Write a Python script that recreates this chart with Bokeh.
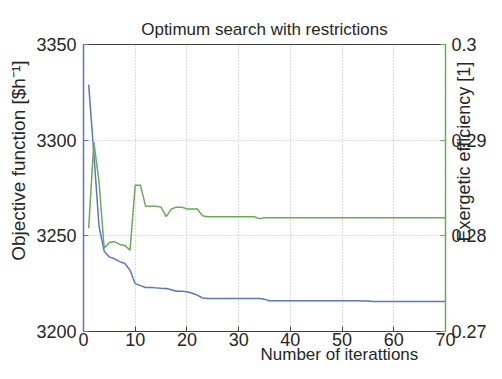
import math
from bokeh.plotting import figure
from bokeh.models import Range1d, LinearAxis, FixedTicker, ColumnDataSource, Title, Axis
from bokeh.embed import file_html
from bokeh.resources import INLINE

iterations = list(range(1, 71))
objective = [3329, 3293, 3255, 3242, 3239, 3238, 3236.5, 3235.5, 3232, 3225,
             3224, 3223, 3223, 3222.8, 3222.6, 3222.5, 3221.8, 3221, 3221, 3220.8,
             3220, 3219, 3217.5, 3217.3, 3217.3, 3217.3, 3217.3, 3217.3, 3217.3, 3217.3,
             3217.3, 3217.3, 3217.3, 3217.2, 3216.8, 3216.1, 3216.1, 3216.1, 3216.1, 3216.1,
             3216.1, 3216.1, 3216.1, 3216.1, 3216.1, 3216.1, 3216.1, 3216.1, 3216.1, 3216.1,
             3216.1, 3216.1, 3216.1, 3216.0, 3216.0, 3215.7, 3215.7, 3215.7, 3215.7, 3215.7,
             3215.7, 3215.7, 3215.7, 3215.7, 3215.7, 3215.7, 3215.7, 3215.7, 3215.7, 3215.7]
efficiency = [0.2808, 0.2898, 0.2857, 0.2787, 0.2793, 0.2794, 0.2791, 0.2790, 0.2785, 0.2853,
              0.2853, 0.2831, 0.2831, 0.2831, 0.2830, 0.2820, 0.2828, 0.2830, 0.2830, 0.2828,
              0.2828, 0.2828, 0.2821, 0.2820, 0.2820, 0.2820, 0.2820, 0.2820, 0.2820, 0.2820,
              0.2820, 0.2820, 0.2820, 0.2818, 0.2819] + [0.2819] * 35

x_ticks = [0, 10, 20, 30, 40, 50, 60, 70]
left_ticks = [3200, 3250, 3300, 3350]
right_ticks = [0.27, 0.28, 0.29, 0.3]

title_text = "Optimum search with restrictions"
xlabel = "Number of iterattions"
ylabel_left = "Objective function [$h\u207b\u00b9]"
ylabel_right = "Exergetic efficiency [1]"

BLUE = "#5b76c4"
GREEN = "#6aaa5a"
DARK = "#404040"
TXT = "#262626"
FONT = "Liberation Sans"

p = figure(width=486, height=363, output_backend="svg", toolbar_location=None,
           x_range=Range1d(0, 70), y_range=Range1d(3200, 3350),
           min_border_left=80, min_border_right=41, min_border_top=44, min_border_bottom=32)
p.extra_y_ranges = {"eff": Range1d(0.27, 0.3)}
p.outline_line_color = DARK
p.outline_line_width = 1
p.background_fill_color = "white"
p.border_fill_color = "white"

src = ColumnDataSource(dict(x=iterations, obj=objective, eff=efficiency))
p.line("x", "obj", source=src, line_color=BLUE, line_width=1.5)
p.line("x", "eff", source=src, line_color=GREEN, line_width=1.5, y_range_name="eff")

for ax in p.xaxis:
    ax.ticker = FixedTicker(ticks=x_ticks)
    ax.axis_line_color = DARK
    ax.major_tick_in = 5
    ax.major_tick_out = 0
    ax.major_tick_line_color = DARK
    ax.minor_tick_line_color = None
    ax.major_label_text_font = FONT
    ax.major_label_text_font_size = "18px"
    ax.major_label_text_color = TXT
    ax.major_label_standoff = 1

for ax in p.yaxis:
    ax.ticker = FixedTicker(ticks=left_ticks)
    ax.axis_line_color = BLUE
    ax.axis_line_width = 1.5
    ax.major_tick_in = 5
    ax.major_tick_out = 0
    ax.major_tick_line_color = BLUE
    ax.minor_tick_line_color = None
    ax.major_label_text_font = FONT
    ax.major_label_text_font_size = "18px"
    ax.major_label_text_color = TXT
    ax.major_label_standoff = 7

ry = LinearAxis(y_range_name="eff", ticker=FixedTicker(ticks=right_ticks))
ry.axis_line_color = GREEN
ry.axis_line_width = 1.5
ry.major_tick_in = 5
ry.major_tick_out = 0
ry.major_tick_line_color = GREEN
ry.minor_tick_line_color = None
ry.major_label_text_font = FONT
ry.major_label_text_font_size = "18px"
ry.major_label_text_color = TXT
ry.major_label_standoff = 6
# leading no-break spaces lift the label from the bottom of the frame, as in the original
ry.axis_label = "\u00a0" * 18 + ylabel_right
ry.axis_label_text_font = FONT
ry.axis_label_text_font_size = "18px"
ry.axis_label_text_font_style = "normal"
ry.axis_label_text_color = TXT
ry.axis_label_text_line_height = 0.5
ry.axis_label_standoff = -26
axis_props = Axis.properties()
if "axis_label_orientation" in axis_props:
    ry.axis_label_orientation = math.pi / 2
if "axis_label_align" in axis_props:
    ry.axis_label_align = "start"
p.add_layout(ry, "right")

p.xgrid.ticker = FixedTicker(ticks=x_ticks[1:-1])
p.ygrid.ticker = FixedTicker(ticks=[3250, 3300])
for g in (p.xgrid, p.ygrid):
    g.grid_line_color = "#bbbbbb"
    g.grid_line_dash = "1 2"
    g.grid_line_width = 1

p.title.text = title_text
p.title.text_font = FONT
p.title.text_font_size = "17px"
p.title.text_font_style = "normal"
p.title.text_color = TXT
p.title.align = "center"
p.title.offset = -6
p.title.standoff = 11

p.add_layout(Title(text=xlabel, text_font=FONT, text_font_size="17px", text_font_style="normal",
                   text_color=TXT, align="left", offset=177, standoff=-12), "below")
p.add_layout(Title(text=ylabel_left, text_font=FONT, text_font_size="19px", text_font_style="normal",
                   text_color=TXT, align="right", offset=16, standoff=10), "left")

open("out.html", "w").write(file_html(p, INLINE))
